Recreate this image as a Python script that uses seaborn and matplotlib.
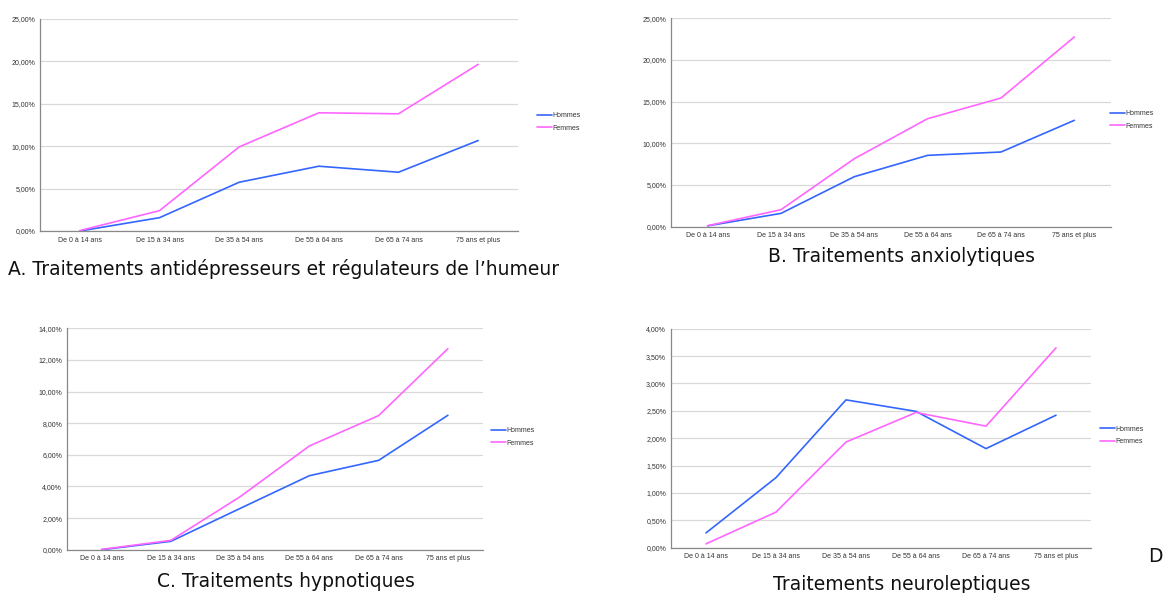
import numpy as np
import pandas as pd
import seaborn as sns
import matplotlib.pyplot as plt
from matplotlib.ticker import FuncFormatter, MultipleLocator, FixedLocator

# age groups (x axis)
ages = ['De 0 à 14 ans', 'De 15 à 34 ans', 'De 35 à 54 ans',
        'De 55 à 64 ans', 'De 65 à 74 ans', '75 ans et plus']

# values in %
a_hommes = [0.0, 1.57, 5.75, 7.64, 6.93, 10.67]
a_femmes = [0.05, 2.40, 9.92, 13.94, 13.82, 19.65]
b_hommes = [0.10, 1.60, 6.00, 8.56, 8.96, 12.76]
b_femmes = [0.12, 2.04, 8.16, 12.96, 15.44, 22.76]
c_hommes = [0.0, 0.53, 2.61, 4.68, 5.65, 8.50]
c_femmes = [0.02, 0.59, 3.35, 6.56, 8.48, 12.71]
d_hommes = [0.27, 1.28, 2.70, 2.49, 1.81, 2.42]
d_femmes = [0.07, 0.65, 1.93, 2.47, 2.22, 3.65]

titles = ['A. Traitements antidépresseurs et régulateurs de l\u2019humeur',
          'B. Traitements anxiolytiques',
          'C. Traitements hypnotiques',
          'Traitements neuroleptiques']

W, H = 1164, 593
palette = {'Hommes': '#3366ff', 'Femmes': '#ff66ff'}

sns.set_style("white")
plt.rcParams['font.family'] = ['DejaVu Sans']

fig = plt.figure(figsize=(W / 100, H / 100), dpi=100)


def px_rect(left, right, top, bottom):
    return [left / W, 1 - bottom / H, (right - left) / W, (bottom - top) / H]


def fmt_pct(v, pos):
    return f'{v:.2f}'.replace('.', ',') + '%'


def make_panel(rect, hommes, femmes, ymax, ystep, leg_xy):
    ax = fig.add_axes(rect)
    df = pd.DataFrame({
        'age': ages * 2,
        'pos': list(range(len(ages))) * 2,
        'valeur': hommes + femmes,
        'sexe': ['Hommes'] * len(ages) + ['Femmes'] * len(ages),
    })
    sns.lineplot(data=df, x='pos', y='valeur', hue='sexe', palette=palette,
                 linewidth=1.2, ax=ax)
    ax.set_xlim(-0.5, len(ages) - 0.5)
    ax.set_ylim(0, ymax)
    ax.yaxis.set_major_locator(MultipleLocator(ystep))
    ax.yaxis.set_major_formatter(FuncFormatter(fmt_pct))
    ax.grid(axis='y', color='#d9d9d9', linewidth=0.9)
    ax.set_axisbelow(True)

    ax.set_xticks(range(len(ages)))
    ax.set_xticklabels(ages)
    ax.xaxis.set_minor_locator(FixedLocator(np.arange(-0.5, len(ages), 1.0)))
    ax.tick_params(axis='x', which='major', length=0, pad=4,
                   labelsize=5, labelcolor='#333333')
    ax.tick_params(axis='x', which='minor', length=3, width=0.8,
                   color='#888888', direction='out')
    ax.tick_params(axis='y', length=2.5, width=0.8, color='#888888',
                   labelsize=5, labelcolor='#333333', pad=1)
    for lab in ax.get_xticklabels() + ax.get_yticklabels():
        lab.set_fontfamily('Liberation Sans')

    for s in ['top', 'right']:
        ax.spines[s].set_visible(False)
    for s in ['left', 'bottom']:
        ax.spines[s].set_color('#888888')
        ax.spines[s].set_linewidth(0.9)

    ax.set_xlabel('')
    ax.set_ylabel('')
    leg = ax.legend(loc='center left', frameon=False,
                    bbox_to_anchor=(leg_xy[0] / W, 1 - leg_xy[1] / H),
                    bbox_transform=fig.transFigure,
                    prop={'family': 'Liberation Sans', 'size': 5},
                    handlelength=2.2, handletextpad=0.05,
                    borderpad=0, borderaxespad=0, labelspacing=0.75)
    for t in leg.get_texts():
        t.set_color('#333333')
    return ax


make_panel(px_rect(40, 518, 19, 231), a_hommes, a_femmes, 25, 5, (537, 122))
make_panel(px_rect(671, 1111, 18.3, 226.7), b_hommes, b_femmes, 25, 5, (1110, 120))
make_panel(px_rect(67, 482.5, 328.3, 549.7), c_hommes, c_femmes, 14, 2, (491, 437))
make_panel(px_rect(671, 1091, 328.7, 547.7), d_hommes, d_femmes, 4, 0.5, (1100, 435.5))

title_kw = dict(fontsize=13.5, color='#111111', va='center')
fig.text(8 / W, 1 - 269 / H, titles[0], ha='left', **title_kw)
fig.text(902 / W, 1 - 257 / H, titles[1], ha='center', **title_kw)
fig.text(286 / W, 1 - 581.5 / H, titles[2], ha='center', **title_kw)
fig.text(902 / W, 1 - 584 / H, titles[3], ha='center', **title_kw)
fig.text(1148 / W, 1 - 557 / H, 'D', ha='left', **title_kw)

fig.savefig('out.png', dpi=100)
